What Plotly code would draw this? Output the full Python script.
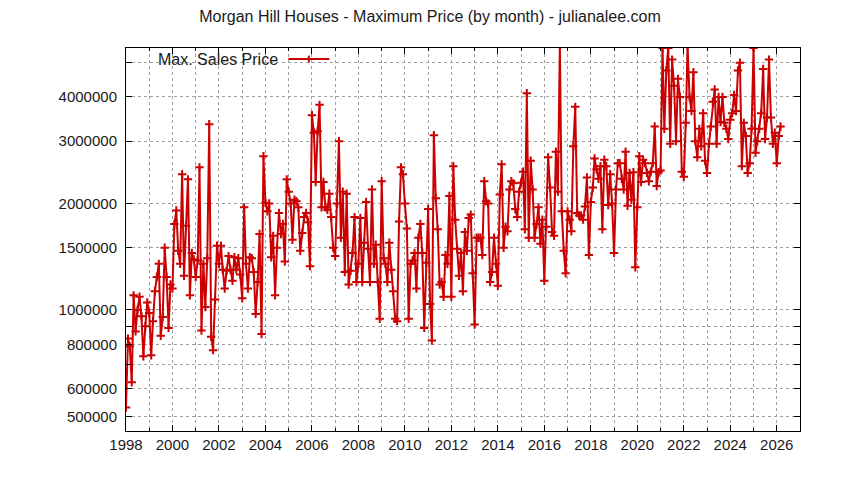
import pandas as pd
import plotly.graph_objects as go

# monthly maximum sale price, in thousands of dollars, Jan 1998 onwards
max_price_k = [
    530, 830, 790, 625, 1100, 870, 1000, 1090, 960, 740, 900, 1050,
    980, 745, 930, 1130, 1240, 1350, 845, 955, 1500, 1240, 890, 1180,
    1150, 1750, 1910, 1470, 1350, 2420, 1250, 1730, 2340, 1100, 1450, 1390,
    1240, 1380, 2530, 875, 1350, 1020, 1400, 3350, 840, 770, 1070, 1520,
    1350, 1520, 1300, 1150, 1290, 1420, 1300, 1210, 1410, 1300, 1400, 1260,
    1080, 1950, 1350, 1150, 1410, 1400, 1280, 975, 1200, 1640, 855, 2720,
    2010, 1900, 2000, 1410, 1620, 1100, 1500, 1880, 1640, 1750, 1370, 2340,
    2160, 2000, 1580, 2050, 2030, 1950, 1470, 1650, 1830, 1880, 1770, 1330,
    3550, 3170, 2300, 3200, 3800, 1950, 2300, 1950, 1920, 2130, 1830, 1500,
    1420, 2000, 3000, 1600, 2160, 1280, 2130, 1180, 1290, 1450, 1830, 1200,
    1350, 1820, 1200, 1550, 2020, 1490, 1200, 2190, 1350, 1530, 1200, 945,
    2310, 1400, 1350, 1200, 1550, 1300, 1130, 945, 930, 1780, 2530, 2420,
    2000, 1700, 945, 1350, 1380, 1450, 1150, 1600, 1750, 1450, 890, 1360,
    1930, 1040, 820, 3120, 2070, 1690, 1180, 1200, 1090, 1430, 1350, 2100,
    1090, 2550, 1800, 1490, 1250, 1450, 1130, 1660, 1470, 1820, 1860, 1270,
    910, 1600, 1600, 1600, 1430, 2310, 2030, 2000, 1200, 1280, 1600, 1350,
    1170, 2120, 2580, 1500, 1720, 1670, 2190, 2310, 2280, 1930, 1830, 2160,
    2290, 2460, 1690, 4100, 1600, 2640, 2190, 1600, 1750, 1950, 1540, 1800,
    1210, 1720, 2700, 2220, 1660, 1620, 2800, 2160, 5600, 1900, 1470, 1270,
    1900, 1800, 1670, 2900, 3750, 1880, 1850, 1850, 1800, 1960, 2370, 1430,
    2020, 2220, 2680, 2500, 2350, 2550, 1690, 2660, 2550, 1980, 2420, 2000,
    1450, 2190, 2600, 2600, 2350, 2190, 2800, 1970, 2440, 2050, 2450, 1320,
    1950, 2720, 2300, 2660, 2600, 2440, 2310, 2460, 2600, 3300, 2240, 2450,
    2480, 5500, 3250, 4750, 5500, 2950, 5100, 4300, 3000, 4500, 4000, 2460,
    2380, 3380, 5600, 4000, 3650, 4700, 3000, 2700, 3250, 2900, 3600, 2640,
    2440, 2950, 3300, 3880, 4200, 2950, 4000, 3400, 4000, 3380, 3250, 3040,
    3450, 3600, 4050, 3650, 4750, 5000, 2550, 3380, 3100, 2440, 2600, 3250,
    5500, 2780, 3000, 3250, 3600, 4800, 3040, 3500, 5100, 3500, 2950, 3170,
    2600, 3100, 3300,
]
max_price = [v * 1000 for v in max_price_k]
months = pd.date_range("1998-01-01", periods=len(max_price), freq="MS")

y_ticks = [500000, 600000, 700000, 800000, 900000, 1000000, 1500000,
           2000000, 3000000, 4000000, 5000000]
y_labels = ["500000", "600000", "", "800000", "", "1000000", "1500000",
            "2000000", "3000000", "4000000", ""]

RED = "#cc0000"
GRID = "#a0a0a0"

fig = go.Figure()
fig.add_trace(go.Scatter(
    x=months, y=max_price, mode="lines+markers",
    line=dict(color=RED, width=2),
    marker=dict(symbol="cross-thin", size=6, line=dict(color=RED, width=2)),
    showlegend=False,
))

font = dict(family="Liberation Sans, Arial, sans-serif", size=15, color="#1a1a1a")

# the page body adds 8px, so margins are shifted to keep the plot box in place
fig.update_layout(
    width=844, height=480,
    margin=dict(l=117.5, r=52, t=40, b=57),
    paper_bgcolor="white", plot_bgcolor="white",
    font=font,
    title=dict(text="Morgan Hill Houses - Maximum Price (by month) - julianalee.com",
               x=0.5, xanchor="center", y=0.983, yanchor="middle",
               font=dict(size=16)),
)

fig.update_xaxes(
    type="date", range=["1998-01-01", "2027-01-01"],
    dtick="M24", tick0="1998-01-01", tickformat="%Y",
    ticks="inside", ticklen=6, tickcolor="black",
    showline=True, linecolor="black", linewidth=1, mirror="ticks",
    showgrid=True, gridcolor=GRID, griddash="dot", gridwidth=1,
    minor=dict(dtick="M12", tick0="1998-01-01", ticks="inside", ticklen=3,
               tickcolor="black", showgrid=True, gridcolor=GRID, griddash="dot"),
    zeroline=False,
)
fig.update_yaxes(
    type="log", range=[5.658, 6.7404],
    tickvals=y_ticks, ticktext=y_labels,
    ticks="inside", ticklen=6, tickcolor="black", ticklabelstandoff=5,
    showline=True, linecolor="black", linewidth=1, mirror="ticks",
    showgrid=True, gridcolor=GRID, griddash="dot", gridwidth=1,
    zeroline=False,
)

# gnuplot style key: opaque box, text then sample line with a cross
fig.add_shape(type="rect", xref="paper", yref="paper",
              x0=0.018, x1=0.316, y0=0.952, y1=0.997,
              fillcolor="white", line=dict(width=0), layer="between")
fig.add_annotation(text="Max. Sales Price", xref="paper", yref="paper",
                   x=0.229, y=0.971, xanchor="right", yanchor="middle",
                   showarrow=False, font=dict(size=16))
fig.add_shape(type="line", xref="paper", yref="paper",
              x0=0.2409, x1=0.3017, y0=0.971, y1=0.971,
              line=dict(color=RED, width=2))
fig.add_shape(type="line", xref="paper", yref="paper",
              x0=0.2713, x1=0.2713, y0=0.962, y1=0.980,
              line=dict(color=RED, width=2))

fig.write_html("out.html")
